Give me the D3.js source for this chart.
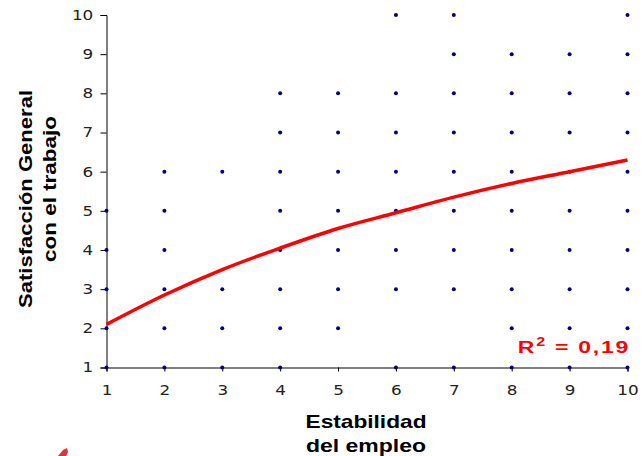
<!DOCTYPE html>
<html>
<head>
<meta charset="utf-8"/>
<script src="https://d3js.org/d3.v7.min.js"></script>
<style>
  body { margin:0; background:#fff; }
  svg { display:block; }
  .title { font-family: "Liberation Sans", Arial, sans-serif; font-weight:bold; font-size:18.5px; fill:#000; }
</style>
</head>
<body>
<svg id="chart" width="644" height="456"></svg>
<script>
// observed points (x = Estabilidad del empleo, y = Satisfaccion)
var xs   = [1, 2, 3, 4, 5, 6, 7, 8, 9, 10];
var col1 = [5, 4, 3, 2, 1];
var col2 = [6, 5, 4, 3, 2, 1];
var col3 = [6, 3, 2, 1];
var col4 = [8, 7, 6, 5, 4, 3, 2, 1];
var col5 = [8, 7, 6, 5, 4, 3, 2];
var col6 = [10, 8, 7, 6, 5, 4, 3, 1];
var col7 = [10, 9, 8, 7, 6, 5, 4, 3, 1];
var col8 = [9, 8, 7, 6, 5, 4, 3, 2, 1];
var col9 = [9, 8, 7, 6, 5, 4, 3, 2, 1];
var col10 = [10, 9, 8, 7, 6, 5, 4, 3, 2, 1];
var cols = [col1, col2, col3, col4, col5, col6, col7, col8, col9, col10];

// trend line
var trendY = [2.1, 2.85, 3.5, 4.05, 4.55, 4.95, 5.35, 5.7, 6.0, 6.3];
var ticks = [1, 2, 3, 4, 5, 6, 7, 8, 9, 10];

var svg = d3.select("#chart");
var x = d3.scaleLinear([1, 10], [106.5, 627.5]);
var y = d3.scaleLinear([1, 10], [367.5, 15]);

var pts = [];
cols.forEach(function(c, i){ c.forEach(function(v){ pts.push([xs[i], v]); }); });

// y axis
var ya = svg.append("g").attr("transform", "translate(106.5,0)")
  .call(d3.axisLeft(y).tickValues(ticks).tickSize(6).tickFormat(d3.format("d")));
ya.attr("font-family", "DejaVu Sans, Verdana, sans-serif").attr("font-size", 14);
ya.select(".domain").attr("stroke", "#000");
ya.selectAll(".tick line").attr("stroke", "#000");
ya.selectAll(".tick text").attr("x", -11).attr("fill", "#222")
  .attr("transform", "scale(1.2,1)");

// x axis
var xa = svg.append("g").attr("transform", "translate(0,367.5)")
  .call(d3.axisBottom(x).tickValues(ticks).tickSize(4).tickPadding(14).tickFormat(d3.format("d")));
xa.attr("font-family", "DejaVu Sans, Verdana, sans-serif").attr("font-size", 14);
xa.select(".domain").attr("stroke", "#808080").attr("stroke-width", 2);
xa.selectAll(".tick line").attr("stroke", "#000");
xa.selectAll(".tick text").attr("fill", "#222").attr("transform", "scale(1.2,1)")
  .attr("x", function(d){ return 0; });

// dots
svg.append("g").selectAll("circle").data(pts).enter()
  .append("circle")
  .attr("cx", d => x(d[0]))
  .attr("cy", d => y(d[1]))
  .attr("r", 2)
  .attr("fill", "#000080");

// trend
var line = d3.line().x((d, i) => x(xs[i])).y(d => y(d)).curve(d3.curveMonotoneX);
svg.append("path").datum(trendY)
  .attr("d", line)
  .attr("fill", "none")
  .attr("stroke", "#ff0000")
  .attr("stroke-width", 3.5);

// R2
var r2 = svg.append("text")
  .attr("transform", "translate(630,353) scale(1.35,1)")
  .attr("text-anchor", "end")
  .attr("font-family", "Liberation Sans, Arial, sans-serif")
  .attr("font-weight", "bold").attr("font-size", 17)
  .attr("letter-spacing", 1.3)
  .attr("fill", "#ff0000");
r2.append("tspan").text("R");
r2.append("tspan").attr("dy", -7).attr("font-size", 12).text("2");
r2.append("tspan").attr("dy", 7).text(" = 0,19");

// axis titles
function title(txt, tx, ty, len, rot) {
  svg.append("text").attr("class", "title")
    .attr("transform", "translate(" + tx + "," + ty + ")" + (rot ? " rotate(-90)" : ""))
    .attr("text-anchor", "middle")
    .attr("textLength", len).attr("lengthAdjust", "spacingAndGlyphs")
    .text(txt);
}
title("Estabilidad", 366, 428, 121, false);
title("del empleo", 366, 452, 120, false);
title("Satisfacción General", 32, 199, 218, true);
title("con el trabajo", 56, 189, 146, true);

// red corner mark (cut off at bottom)
svg.append("path")
  .attr("d", "M58,456 L63,450 L67,448 L68,452 L66,456 Z")
  .attr("fill", "#e8303a");
</script>
</body>
</html>
